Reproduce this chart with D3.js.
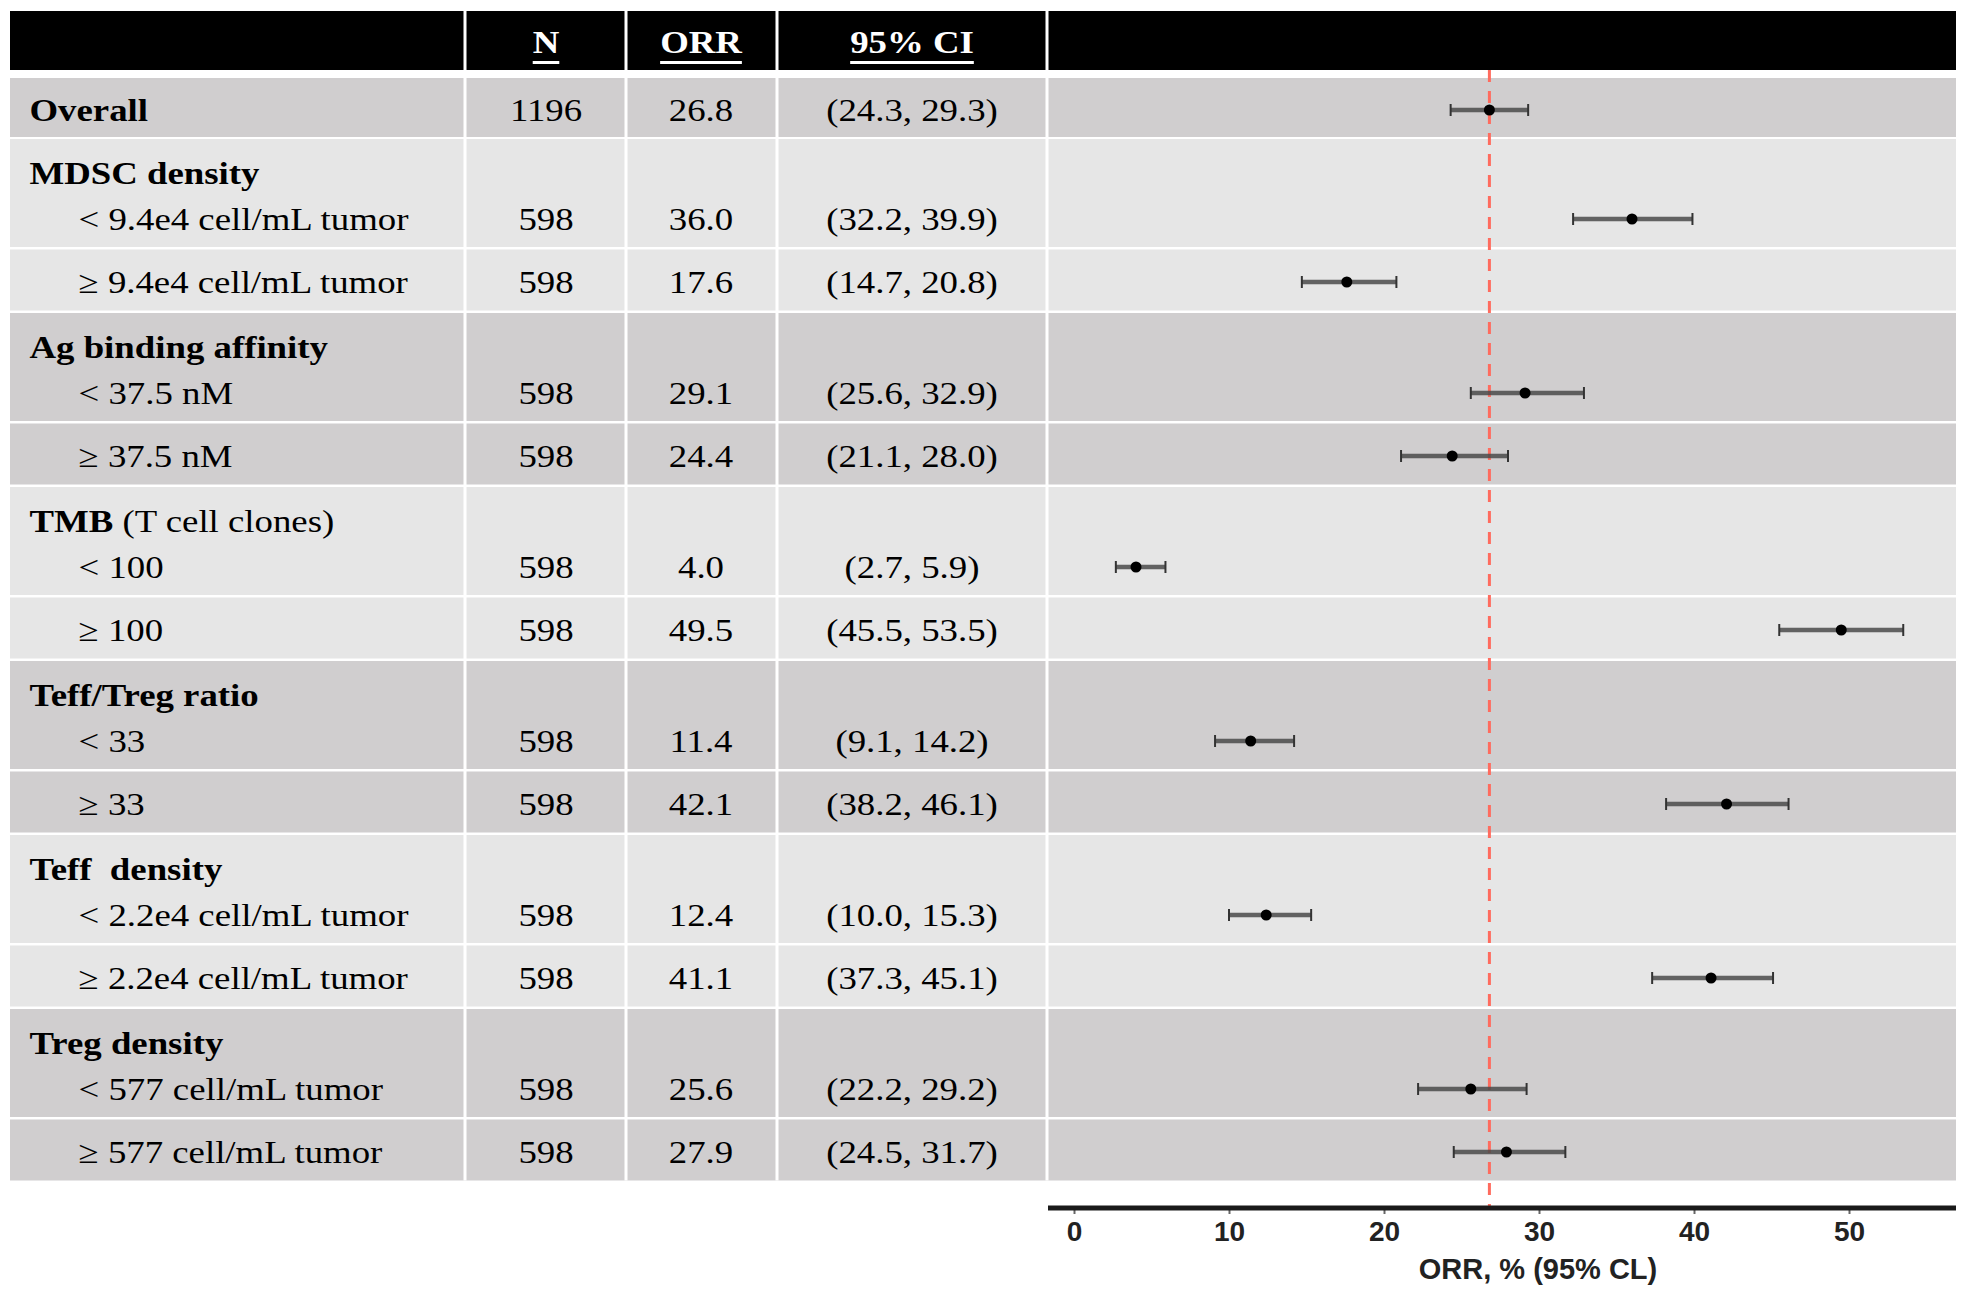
<!DOCTYPE html>
<html>
<head>
<meta charset="utf-8">
<script src="https://cdn.jsdelivr.net/npm/d3@7"></script>
<style>
  body { margin: 0; background: #fff; }
  svg text { white-space: pre; }
</style>
</head>
<body>
<div id="chart"></div>
<script>
// table + forest data
var rowLabels = ["Overall",
    "< 9.4e4 cell/mL tumor", "\u2265 9.4e4 cell/mL tumor",
    "< 37.5 nM", "\u2265 37.5 nM",
    "< 100", "\u2265 100",
    "< 33", "\u2265 33",
    "< 2.2e4 cell/mL tumor", "\u2265 2.2e4 cell/mL tumor",
    "< 577 cell/mL tumor", "\u2265 577 cell/mL tumor"];

var groupTitles = ["MDSC density", "Ag binding affinity", "TMB", "Teff/Treg ratio", "Teff  density", "Treg density"],
    groupNotes = ["", "", " (T cell clones)", "", "", ""];

var nValues = [1196, 598, 598, 598, 598, 598, 598, 598, 598, 598, 598, 598, 598],
    orrValues = [26.8, 36.0, 17.6, 29.1, 24.4, 4.0, 49.5, 11.4, 42.1, 12.4, 41.1, 25.6, 27.9],
    ciLow = [24.3, 32.2, 14.7, 25.6, 21.1, 2.7, 45.5, 9.1, 38.2, 10.0, 37.3, 22.2, 24.5],
    ciHigh = [29.3, 39.9, 20.8, 32.9, 28.0, 5.9, 53.5, 14.2, 46.1, 15.3, 45.1, 29.2, 31.7];

var headers = ["N", "ORR", "95% CI"],
    refValue = 26.8,
    xTicks = [0, 10, 20, 30, 40, 50],
    xTitle = "ORR, % (95% CL)";

var width = 1971,
    height = 1298,
    left = 10,
    right = 1956,
    headTop = 11,
    headBottom = 70,
    colEdges = [465, 626, 777, 1047],
    colCenters = [546, 701, 912],
    stretch = 1.15,
    serif = "'Liberation Serif', 'Times New Roman', serif",
    sans = "'Liberation Sans', Arial, sans-serif",
    darkFill = "#d0cecf",
    lightFill = "#e6e6e6";

var svg = d3.select("#chart").append("svg")
    .attr("width", width)
    .attr("height", height);

// row geometry
var rows = rowLabels.map(function (label, i) {
    var r = {i: i, label: label};
    if (i == 0) {
        r.top = 78; r.h = 59; r.y = 110; r.block = 0;
    } else {
        var block = Math.ceil(i / 2),
            blockTop = 139 + (block - 1) * 174;
        r.block = block;
        if (i % 2 == 1) {
            r.top = blockTop; r.h = 108; r.y = blockTop + 80;
            r.title = groupTitles[block - 1];
            r.note = groupNotes[block - 1];
            r.titleY = blockTop + 34;
        } else {
            r.top = blockTop + 110.5; r.h = 61; r.y = r.top + 32.5;
        }
    }
    return r;
});

var lastBottom = rows[rows.length - 1].top + rows[rows.length - 1].h;

// header band
svg.append("rect")
    .attr("x", left).attr("y", headTop)
    .attr("width", right - left).attr("height", headBottom - headTop)
    .attr("fill", "#000");

// row backgrounds
svg.selectAll(".rowbg").data(rows).enter().append("rect")
    .attr("class", "rowbg")
    .attr("x", left)
    .attr("y", d => d.top)
    .attr("width", right - left)
    .attr("height", d => d.h)
    .attr("fill", d => d.block % 2 == 0 ? darkFill : lightFill);

// column separators
colEdges.forEach(function (cx) {
    svg.append("line")
        .attr("x1", cx).attr("x2", cx)
        .attr("y1", headTop).attr("y2", lastBottom)
        .attr("stroke", "#fff").attr("stroke-width", 3);
});

function stretchedText(x, y, anchor) {
    return svg.append("g")
        .attr("transform", "translate(" + x + "," + y + ") scale(" + stretch + ",1)")
        .append("text")
        .attr("text-anchor", anchor)
        .attr("font-family", serif)
        .attr("font-size", 32)
        .attr("fill", "#000");
}

// header labels, underlined
headers.forEach(function (h, k) {
    var t = stretchedText(colCenters[k], 53, "middle")
        .attr("fill", "#fff")
        .attr("font-weight", "bold")
        .text(h);
    var w = t.node().getComputedTextLength() * stretch;
    svg.append("rect")
        .attr("x", colCenters[k] - w / 2).attr("y", 61)
        .attr("width", w).attr("height", 3)
        .attr("fill", "#fff");
});

// labels
rows.forEach(function (r) {
    if (r.i == 0) {
        stretchedText(29.5, r.y + 10.5, "start").attr("font-weight", "bold").text(r.label);
    } else {
        if (r.title) {
            var t = stretchedText(29.5, r.titleY + 10.5, "start");
            t.append("tspan").attr("font-weight", "bold").text(r.title);
            if (r.note) t.append("tspan").text(r.note);
        }
        stretchedText(78.5, r.y + 10.5, "start").text(r.label);
    }
    stretchedText(colCenters[0], r.y + 10.5, "middle").text(nValues[r.i]);
    stretchedText(colCenters[1], r.y + 10.5, "middle").text(orrValues[r.i].toFixed(1));
    stretchedText(colCenters[2], r.y + 10.5, "middle")
        .text("(" + ciLow[r.i].toFixed(1) + ", " + ciHigh[r.i].toFixed(1) + ")");
});

// forest plot
var x = d3.scaleLinear().domain([0, 50]).range([1074, 1849]);
var axisY = 1208;

svg.append("line")
    .attr("x1", x(refValue)).attr("x2", x(refValue))
    .attr("y1", headBottom).attr("y2", axisY)
    .attr("stroke", "#ff6b5e")
    .attr("stroke-width", 3)
    .attr("stroke-dasharray", "12,9");

var bars = svg.selectAll(".ci").data(rows).enter().append("g").attr("class", "ci");

bars.append("line")
    .attr("x1", d => x(ciLow[d.i])).attr("x2", d => x(ciHigh[d.i]))
    .attr("y1", d => d.y).attr("y2", d => d.y)
    .attr("stroke", "#4a4a4a").attr("stroke-width", 4.5).attr("stroke-opacity", 0.85);

bars.selectAll(".cap")
    .data(d => [{v: ciLow[d.i], y: d.y}, {v: ciHigh[d.i], y: d.y}])
    .enter().append("line")
    .attr("x1", d => x(d.v)).attr("x2", d => x(d.v))
    .attr("y1", d => d.y - 6).attr("y2", d => d.y + 6)
    .attr("stroke", "#333").attr("stroke-width", 2);

bars.append("circle")
    .attr("cx", d => x(orrValues[d.i]))
    .attr("cy", d => d.y)
    .attr("r", 5.5)
    .attr("fill", "#000");

// x axis
var axis = svg.append("g")
    .attr("transform", "translate(0," + axisY + ")")
    .call(d3.axisBottom(x).tickValues(xTicks).tickSize(6).tickPadding(7).tickFormat(d3.format("d")));

axis.select(".domain").remove();
axis.selectAll(".tick line").attr("stroke", "#666").attr("stroke-width", 2);
axis.selectAll(".tick text")
    .attr("font-family", sans)
    .attr("font-weight", "bold")
    .attr("font-size", 28)
    .attr("fill", "#222");

svg.append("line")
    .attr("x1", 1048).attr("x2", right)
    .attr("y1", axisY).attr("y2", axisY)
    .attr("stroke", "#1a1a1a").attr("stroke-width", 5);

svg.append("text")
    .attr("x", 1538).attr("y", 1279)
    .attr("text-anchor", "middle")
    .attr("font-family", sans)
    .attr("font-weight", "bold")
    .attr("font-size", 29)
    .attr("fill", "#222")
    .text(xTitle);
</script>
</body>
</html>
